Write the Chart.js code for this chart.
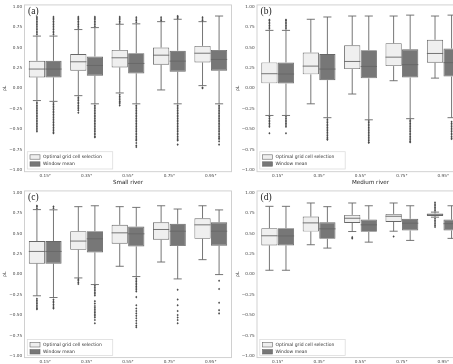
<!DOCTYPE html>
<html><head><meta charset="utf-8">
<script src="https://cdn.jsdelivr.net/npm/chart.js@4"></script>
<style>
html,body{margin:0;padding:0;background:#fff;overflow:hidden;width:453px;height:364px;position:relative}
canvas{position:absolute}
</style></head>
<body>
<canvas id="ca" width="236" height="188" style="left:0px;top:0px;width:236px;height:188px"></canvas>
<canvas id="cb" width="250" height="188" style="left:233px;top:0px;width:250px;height:188px"></canvas>
<canvas id="cc" width="236" height="178" style="left:0px;top:186px;width:236px;height:178px"></canvas>
<canvas id="cd" width="250" height="178" style="left:233px;top:186px;width:250px;height:178px"></canvas>
<script>
// ---------- data ----------
const cats = ['0.15°','0.35°','0.55°','0.75°','0.95°'];
const seriesNames = ['Optimal grid cell selection','Window mean'];
const yTicks = [-1,-0.75,-0.5,-0.25,0,0.25,0.5,0.75,1];
// stats per category: [lower whisker, q1, median, q3, upper whisker]
// (a) Small river
const aOpt = [[-0.15,0.134,0.236,0.337,0.64],[-0.09,0.215,0.325,0.419,0.72],[-0.057,0.256,0.374,0.47,0.785],[-0.02,0.289,0.406,0.50,0.817],[0.033,0.317,0.43,0.52,0.817]];
const aWin = [[-0.16,0.134,0.236,0.337,0.64],[-0.19,0.154,0.28,0.39,0.744],[-0.19,0.183,0.305,0.43,0.79],[-0.19,0.203,0.333,0.46,0.846],[-0.19,0.215,0.354,0.47,0.886]];
const aOptOut = [
 [0.66,0.68,0.70,0.72,0.74,0.76,0.78,0.80,0.82,0.84,0.86,0.875,-0.17,-0.19,-0.21,-0.23,-0.25,-0.27,-0.29,-0.31,-0.33,-0.35,-0.37,-0.39,-0.41,-0.43,-0.45,-0.47,-0.49,-0.51,-0.53],
 [0.74,0.76,0.78,0.80,0.82,0.84,0.86,0.875,-0.11,-0.13,-0.15,-0.17,-0.19,-0.21,-0.23,-0.25,-0.27,-0.30],
 [0.80,0.82,0.84,0.86,0.875,-0.08,-0.10,-0.12,-0.14,-0.16,-0.17,-0.19,-0.21],
 [0.83,0.85,0.87],
 [0.83,0.85,0.87,0.01,0.0]];
const aWinOut = [
 [0.66,0.68,0.70,0.72,0.74,0.76,0.78,0.80,0.82,0.84,0.86,0.875,-0.18,-0.20,-0.22,-0.24,-0.26,-0.28,-0.30,-0.32,-0.34,-0.36,-0.38,-0.40,-0.42,-0.44,-0.46,-0.48,-0.50,-0.52,-0.54,-0.55],
 [0.76,0.78,0.80,0.82,0.84,0.86,0.875,-0.21,-0.23,-0.25,-0.27,-0.29,-0.31,-0.33,-0.35,-0.37,-0.39,-0.41,-0.43,-0.45,-0.47,-0.49,-0.51,-0.53,-0.55,-0.57,-0.59,-0.60],
 [0.81,0.83,0.85,0.87,-0.21,-0.23,-0.25,-0.27,-0.29,-0.31,-0.33,-0.35,-0.37,-0.39,-0.41,-0.43,-0.45,-0.47,-0.49,-0.51,-0.53,-0.55,-0.57,-0.59,-0.61,-0.63,-0.64,-0.67,-0.70,-0.72],
 [0.86,0.875,0.885,-0.21,-0.23,-0.25,-0.27,-0.29,-0.31,-0.33,-0.35,-0.37,-0.39,-0.41,-0.43,-0.45,-0.47,-0.49,-0.51,-0.53,-0.55,-0.57,-0.59,-0.61,-0.63,-0.64,-0.69],
 [-0.21,-0.23,-0.25,-0.27,-0.29,-0.31,-0.33,-0.35,-0.37,-0.39,-0.41,-0.43,-0.45,-0.47,-0.49,-0.51,-0.53,-0.55,-0.57,-0.59,-0.61,-0.62,-0.65,-0.69]];
// (b) Medium river
const bOpt = [[-0.333,0.061,0.179,0.317,0.71],[-0.19,0.171,0.272,0.439,0.846],[-0.07,0.236,0.329,0.528,0.886],[0.093,0.272,0.382,0.553,0.886],[0.125,0.313,0.427,0.595,0.886]];
const bWin = [[-0.333,0.058,0.175,0.317,0.71],[-0.36,0.10,0.236,0.419,0.874],[-0.386,0.122,0.268,0.467,0.886],[-0.372,0.132,0.29,0.478,0.897],[-0.36,0.144,0.315,0.488,0.897]];
const bOptOut = [[0.73,0.75,0.77,0.79,0.81,0.83,0.84,-0.35,-0.37,-0.39,-0.41,-0.43,-0.45,-0.47,-0.55],[],[],[],[]];
const bWinOut = [
 [0.73,0.75,0.77,0.79,0.81,0.83,0.84,-0.35,-0.37,-0.39,-0.41,-0.43,-0.45,-0.47,-0.55],
 [-0.38,-0.40,-0.42,-0.44,-0.46,-0.48,-0.50,-0.52,-0.54,-0.56,-0.58,-0.60,-0.62,-0.63],
 [-0.40,-0.42,-0.44,-0.46,-0.48,-0.50,-0.52,-0.54,-0.56,-0.58,-0.60,-0.62,-0.64,-0.66,-0.667],
 [-0.39,-0.41,-0.43,-0.45,-0.47,-0.49,-0.51,-0.53,-0.55,-0.57,-0.59,-0.61,-0.63,-0.65,-0.66],
 [-0.41,-0.43,-0.45,-0.47,-0.49,-0.51,-0.53,-0.55,-0.57,-0.59,-0.61,-0.62]];
// (c) Small river
const cOpt = [[-0.264,0.13,0.28,0.407,0.793],[-0.045,0.30,0.407,0.528,0.829],[0.098,0.374,0.508,0.606,0.829],[0.15,0.423,0.549,0.638,0.84],[0.179,0.435,0.606,0.687,0.84]];
const cWin = [[-0.285,0.13,0.28,0.407,0.79],[-0.126,0.268,0.435,0.528,0.84],[-0.028,0.341,0.496,0.585,0.82],[-0.057,0.346,0.528,0.618,0.80],[-0.004,0.35,0.528,0.638,0.789]];
const cOptOut = [[0.81,0.83,0.84,-0.30,-0.32,-0.34,-0.36,-0.38,-0.40,-0.42,-0.43],[-0.06,-0.08,-0.10,-0.12],[],[],[]];
const cWinOut = [
 [0.81,0.83,-0.31,-0.33,-0.35,-0.37,-0.39,-0.41,-0.42],
 [-0.14,-0.16,-0.18,-0.20,-0.22,-0.24,-0.26,-0.33,-0.36,-0.39,-0.41,-0.43,-0.45,-0.47,-0.49,-0.51,-0.53,-0.56,-0.60],
 [-0.05,-0.07,-0.09,-0.11,-0.13,-0.15,-0.17,-0.19,-0.21,-0.28,-0.38,-0.42,-0.45,-0.48,-0.51,-0.54,-0.57,-0.60,-0.63,-0.65],
 [-0.19,-0.31,-0.38,-0.45,-0.50,-0.53,-0.56,-0.60],
 [-0.08,-0.18,-0.35,-0.44,-0.48]];
// (d) Medium river
const dOpt = [[0.049,0.354,0.472,0.565,0.833],[0.362,0.524,0.63,0.707,0.874],[0.524,0.63,0.687,0.728,0.874],[0.528,0.642,0.711,0.74,0.874],[0.70,0.715,0.73,0.744,0.762]];
const dWin = [[0.049,0.354,0.47,0.565,0.833],[0.321,0.435,0.557,0.638,0.829],[0.394,0.52,0.606,0.67,0.84],[0.415,0.537,0.626,0.68,0.84],[0.44,0.537,0.62,0.67,0.84]];
const dOptOut = [[],[],[0.455,0.44],[0.463],[0.78,0.80,0.82,0.84,0.86,0.88,0.68,0.66,0.64,0.62,0.60,0.58]];
const dWinOut = [[],[],[],[],[]];

// ---------- styles ----------
const FILLS = ['#efefef','#777777'];
const LINE = '#676767';
const FONT = 'DejaVu Sans';

const boxPlugin = {
  id: 'boxdraw',
  afterDatasetsDraw(chart) {
    const ctx = chart.ctx, ys = chart.scales.y, a = chart.chartArea;
    ctx.save();
    ctx.beginPath(); ctx.rect(a.left, a.top, a.right - a.left, a.bottom - a.top); ctx.clip();
    chart.data.datasets.forEach((ds, di) => {
      const meta = chart.getDatasetMeta(di);
      meta.data.forEach((el, i) => {
        const s = ds.stats[i];
        const x = el.x, w = el.width;
        const P = v => ys.getPixelForValue(v);
        ctx.strokeStyle = LINE; ctx.lineWidth = 0.9;
        ctx.beginPath();
        ctx.moveTo(x, P(s[3])); ctx.lineTo(x, P(s[4]));
        ctx.moveTo(x, P(s[1])); ctx.lineTo(x, P(s[0]));
        ctx.moveTo(x - w / 4, P(s[4])); ctx.lineTo(x + w / 4, P(s[4]));
        ctx.moveTo(x - w / 4, P(s[0])); ctx.lineTo(x + w / 4, P(s[0]));
        ctx.moveTo(x - w / 2, P(s[2])); ctx.lineTo(x + w / 2, P(s[2]));
        ctx.stroke();
        ctx.fillStyle = '#4a4a4a';
        ds.fliers[i].forEach(v => {
          const py = P(v), r = 1.3;
          ctx.beginPath();
          ctx.moveTo(x, py - r); ctx.lineTo(x + r * 0.8, py); ctx.lineTo(x, py + r); ctx.lineTo(x - r * 0.8, py);
          ctx.closePath(); ctx.fill();
        });
      });
    });
    ctx.restore();
  },
  afterDraw(chart) {
    const ctx = chart.ctx, a = chart.chartArea, o = chart.options.plugins.boxdraw;
    ctx.save();
    ctx.strokeStyle = '#cccccc'; ctx.lineWidth = 0.9;
    ctx.strokeRect(a.left, a.top, a.right - a.left, a.bottom - a.top);
    // panel letter
    ctx.fillStyle = '#222';
    ctx.font = '9.5px "Liberation Serif"';
    ctx.textBaseline = 'middle';
    ctx.fillText(o.letter, a.left + 3.5, a.top + 6.5);
    // x axis title (river size)
    if (o.title) {
      ctx.textAlign = 'center';
      ctx.font = '5.6px "' + FONT + '"';
      ctx.fillText(o.title, (a.left + a.right) / 2 + o.titleShift, a.bottom + 10.5);
      ctx.textAlign = 'left';
    }
    // legend
    const fx = a.left + 2.8, fb = a.bottom - o.legBottom, fh = o.legH, fw = 85.4;
    ctx.fillStyle = 'rgba(255,255,255,0.85)';
    ctx.fillRect(fx, fb - fh, fw, fh);
    ctx.strokeStyle = '#dddddd'; ctx.lineWidth = 0.8;
    ctx.strokeRect(fx, fb - fh, fw, fh);
    chart.data.datasets.forEach((ds, di) => {
      const cy = fb - fh + 5.3 + di * 7;
      ctx.fillStyle = FILLS[di];
      ctx.fillRect(fx + 2.7, cy - 2.2, 10, 4.4);
      ctx.strokeStyle = LINE; ctx.lineWidth = 0.6;
      ctx.strokeRect(fx + 2.7, cy - 2.2, 10, 4.4);
      ctx.fillStyle = '#333';
      ctx.font = '4.5px "' + FONT + '"';
      ctx.fillText(ds.label, fx + 15.7, cy + 0.2);
    });
    ctx.restore();
  }
};

function makePanel(id, opt, win, optOut, winOut, letter, title, cfg) {
  const mk = (stats, fl, di) => ({
    label: seriesNames[di],
    data: stats.map(s => [s[1], s[3]]),
    stats: stats, fliers: fl,
    backgroundColor: FILLS[di], borderColor: LINE, borderWidth: 0.9, borderSkipped: false,
    categoryPercentage: 0.8, barPercentage: 0.98
  });
  new Chart(document.getElementById(id), {
    type: 'bar',
    data: { labels: cats, datasets: [mk(opt, optOut, 0), mk(win, winOut, 1)] },
    plugins: [boxPlugin],
    options: {
      responsive: false, animation: false, devicePixelRatio: 1,
      layout: { padding: { left: 0, top: cfg.top, right: cfg.right, bottom: 0 } },
      plugins: { legend: { display: false }, tooltip: { enabled: false },
        boxdraw: { letter: letter, legBottom: cfg.legBottom, legH: cfg.legH, title: title, titleShift: cfg.titleShift } },
      scales: {
        x: {
          grid: { display: false, drawTicks: false }, border: { display: false },
          ticks: { color: '#444', font: { family: FONT, size: 4.2 }, padding: 1.6, maxRotation: 0 },
          afterFit: s => { s.height = cfg.xh; }
        },
        y: {
          min: -1.022, max: 1.022,
          afterBuildTicks: s => { s.ticks = yTicks.map(v => ({ value: v })); },
          grid: { display: false, drawTicks: false }, border: { display: false },
          ticks: { color: '#444', font: { family: FONT, size: 4.2 }, padding: 2.4,
            callback: v => (v < 0 ? '\u2212' : '') + Math.abs(v).toFixed(2) },
          title: { display: true, text: 'ρL', color: '#333', font: { family: FONT, size: 4.6 }, padding: { top: 2.5, bottom: 0 } },
          afterFit: s => { s.width = cfg.yw; }
        }
      }
    }
  });
}

const topCfgA = { top: 4, right: 4.5, xh: 16.3, yw: 24.5, legBottom: 2.7, legH: 17.3, titleShift: 0 };
const topCfgB = { top: 4, right: 19, xh: 16.3, yw: 24, legBottom: 2.7, legH: 17.3, titleShift: 10 };
const botCfgC = { top: 4.4, right: 4.5, xh: 6.4, yw: 24.5, legBottom: 2.1, legH: 16, titleShift: 0 };
const botCfgD = { top: 4.4, right: 19, xh: 6.4, yw: 24, legBottom: 2.1, legH: 16, titleShift: 0 };

makePanel('ca', aOpt, aWin, aOptOut, aWinOut, '(a)', 'Small river', topCfgA);
makePanel('cb', bOpt, bWin, bOptOut, bWinOut, '(b)', 'Medium river', topCfgB);
makePanel('cc', cOpt, cWin, cOptOut, cWinOut, '(c)', '', botCfgC);
makePanel('cd', dOpt, dWin, dOptOut, dWinOut, '(d)', '', botCfgD);
</script>
</body></html>
